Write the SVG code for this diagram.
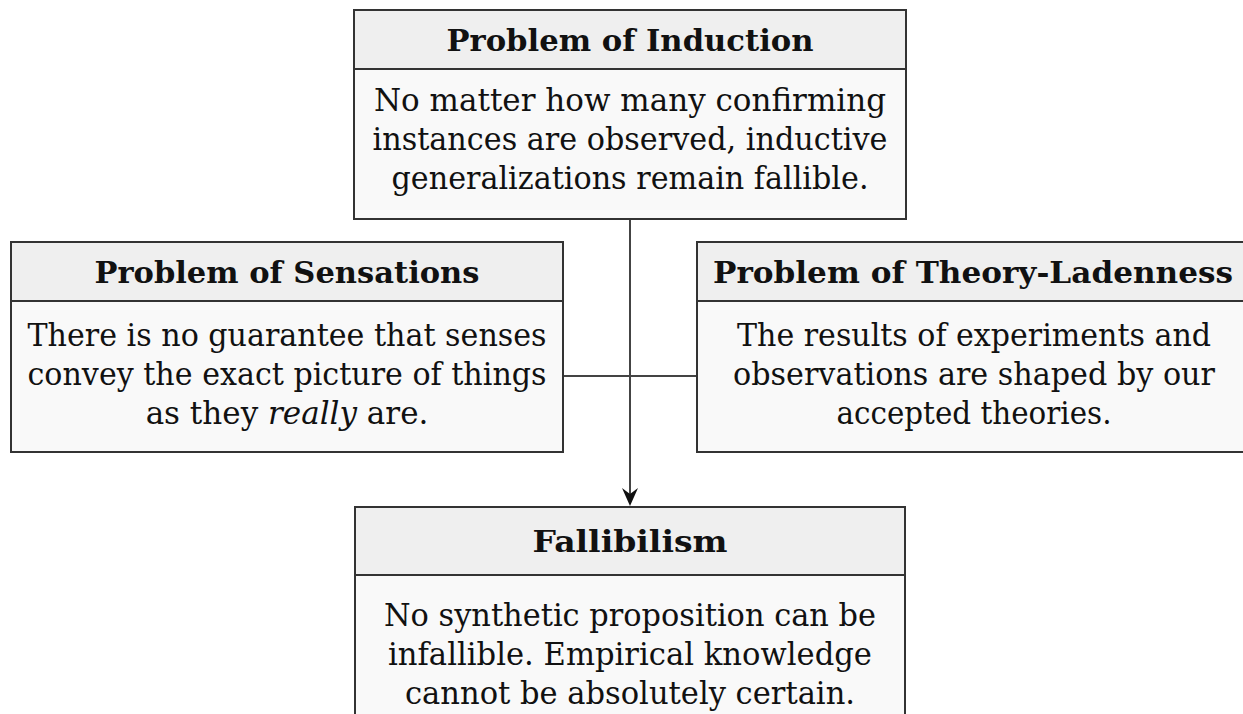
<svg xmlns="http://www.w3.org/2000/svg" width="1243" height="714" viewBox="0 0 1243 714">
<style>
.hdr{fill:#efefef;stroke:#333;stroke-width:2}
.body{fill:#f9f9f9;stroke:#333;stroke-width:2}
.t{font-family:"DejaVu Serif","Liberation Serif",serif;font-weight:bold;font-size:30px;fill:#111;text-anchor:middle}
.b{font-family:"DejaVu Serif","Liberation Serif",serif;font-size:31px;fill:#111;text-anchor:middle}
.c{stroke:#444;stroke-width:2;fill:none}
</style>
<rect width="1243" height="714" fill="#fff"/>
<g id="connectors">
<line class="c" x1="630" y1="219" x2="630" y2="494"/>
<line class="c" x1="563" y1="376" x2="697" y2="376"/>
<polygon points="630,506 622,488 630,494 638,488" fill="#111"/>
</g>
<g id="induction">
<rect class="body" x="354" y="10" width="552" height="209"/>
<rect class="hdr" x="354" y="10" width="552" height="59"/>
<text class="t" x="630" y="51" textLength="367" lengthAdjust="spacingAndGlyphs">Problem of Induction</text>
<text class="b" x="630" y="111" textLength="512" lengthAdjust="spacingAndGlyphs">No matter how many confirming</text>
<text class="b" x="630" y="150" textLength="515" lengthAdjust="spacingAndGlyphs">instances are observed, inductive</text>
<text class="b" x="630" y="189" textLength="477" lengthAdjust="spacingAndGlyphs">generalizations remain fallible.</text>
</g>
<g id="sensations">
<rect class="body" x="11" y="242" width="552" height="210"/>
<rect class="hdr" x="11" y="242" width="552" height="59"/>
<text class="t" x="287" y="283" textLength="385" lengthAdjust="spacingAndGlyphs">Problem of Sensations</text>
<text class="b" x="287" y="346" textLength="519" lengthAdjust="spacingAndGlyphs">There is no guarantee that senses</text>
<text class="b" x="287" y="385" textLength="519" lengthAdjust="spacingAndGlyphs">convey the exact picture of things</text>
<text class="b" x="287" y="424">as they <tspan font-style="italic">really</tspan> are.</text>
</g>
<g id="theory">
<rect class="body" x="697" y="242" width="554" height="210"/>
<rect class="hdr" x="697" y="242" width="554" height="59"/>
<text class="t" x="973" y="283" textLength="520" lengthAdjust="spacingAndGlyphs">Problem of Theory-Ladenness</text>
<text class="b" x="974" y="346" textLength="474" lengthAdjust="spacingAndGlyphs">The results of experiments and</text>
<text class="b" x="974" y="385" textLength="482" lengthAdjust="spacingAndGlyphs">observations are shaped by our</text>
<text class="b" x="974" y="424" textLength="275" lengthAdjust="spacingAndGlyphs">accepted theories.</text>
</g>
<g id="fallibilism">
<rect class="body" x="355" y="507" width="550" height="220"/>
<rect class="hdr" x="355" y="507" width="550" height="68"/>
<text class="t" x="630" y="552" textLength="195" lengthAdjust="spacingAndGlyphs">Fallibilism</text>
<text class="b" x="630" y="626" textLength="492" lengthAdjust="spacingAndGlyphs">No synthetic proposition can be</text>
<text class="b" x="630" y="665" textLength="484" lengthAdjust="spacingAndGlyphs">infallible. Empirical knowledge</text>
<text class="b" x="630" y="704" textLength="450" lengthAdjust="spacingAndGlyphs">cannot be absolutely certain.</text>
</g>
</svg>
